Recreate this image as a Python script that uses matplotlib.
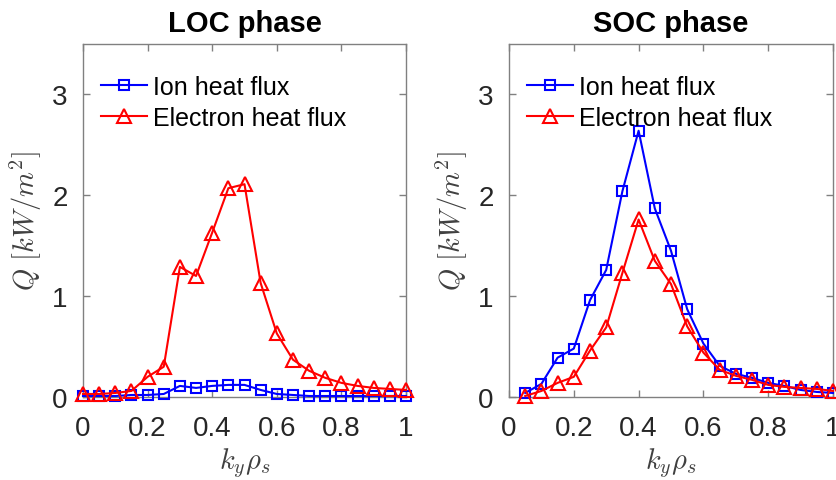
import matplotlib
matplotlib.use("Agg")
import matplotlib.pyplot as plt

plt.rcParams["font.family"] = ["Liberation Sans", "DejaVu Sans"]
plt.rcParams["mathtext.fontset"] = "cm"

# LOC phase data
ky_loc = [0, 0.05, 0.1, 0.15, 0.2, 0.25, 0.3, 0.35, 0.4, 0.45, 0.5,
          0.55, 0.6, 0.65, 0.7, 0.75, 0.8, 0.85, 0.9, 0.95, 1.0]
ion_loc = [0.01, 0.01, 0.01, 0.02, 0.02, 0.03, 0.11, 0.09, 0.11, 0.12, 0.12,
           0.07, 0.03, 0.02, 0.01, 0.01, 0.01, 0.01, 0.01, 0.01, 0.01]
ele_loc = [0.03, 0.03, 0.04, 0.06, 0.2, 0.3, 1.29, 1.2, 1.63, 2.07, 2.11,
           1.13, 0.63, 0.37, 0.26, 0.19, 0.14, 0.11, 0.09, 0.08, 0.07]

# SOC phase data
ky_soc = [0.05, 0.1, 0.15, 0.2, 0.25, 0.3, 0.35, 0.4, 0.45, 0.5,
          0.55, 0.6, 0.65, 0.7, 0.75, 0.8, 0.85, 0.9, 0.95, 1.0]
ion_soc = [0.04, 0.13, 0.39, 0.48, 0.96, 1.26, 2.04, 2.64, 1.87, 1.45,
           0.87, 0.53, 0.31, 0.23, 0.19, 0.14, 0.11, 0.07, 0.05, 0.04]
ele_soc = [0.01, 0.06, 0.14, 0.2, 0.46, 0.69, 1.23, 1.76, 1.35, 1.12,
           0.7, 0.44, 0.27, 0.21, 0.17, 0.12, 0.1, 0.09, 0.08, 0.06]

xticks = [0, 0.2, 0.4, 0.6, 0.8, 1]
xticklabels = ["0", "0.2", "0.4", "0.6", "0.8", "1"]
yticks = [0, 1, 2, 3]

W, H = 836, 481
fig = plt.figure(figsize=(W / 100, H / 100), dpi=100)
ax1 = fig.add_axes([83 / W, (H - 398) / H, 323 / W, 353 / H])
ax2 = fig.add_axes([509 / W, (H - 398) / H, 324 / W, 353 / H])

panels = [(ax1, "LOC phase", ky_loc, ion_loc, ele_loc),
          (ax2, "SOC phase", ky_soc, ion_soc, ele_soc)]

for ax, title, x, ion, ele in panels:
    ax.plot(x, ion, "-s", color="blue", lw=1.5, ms=7, mfc="none", mew=1.5,
            label="Ion heat flux", clip_on=False, zorder=3)
    ax.plot(x, ele, "-^", color="red", lw=1.5, ms=10, mfc="none", mew=1.5,
            label="Electron heat flux", clip_on=False, zorder=3)
    ax.set_xlim(0, 1)
    ax.set_ylim(0, 3.5)
    ax.set_xticks(xticks)
    ax.set_xticklabels(xticklabels)
    ax.set_yticks(yticks)
    ax.tick_params(direction="in", top=True, right=True, length=5,
                   width=1, color="#808080", labelsize=20, labelcolor="#262626")
    ax.tick_params(axis="x", pad=13)
    ax.tick_params(axis="y", pad=11)
    for s in ax.spines.values():
        s.set_color("#808080")
        s.set_linewidth(1)
    ax.set_title(title, fontsize=21, fontweight="bold", pad=9)
    ax.set_xlabel(r"$k_y\rho_s$", fontsize=20.5, color="#404040", labelpad=3)
    ax.set_ylabel(r"$Q\ [kW/m^2]$", fontsize=20.5, color="#404040", labelpad=6)
    ax.legend(loc="upper left", frameon=False, fontsize=18, handlelength=1.85,
              handletextpad=0.25, labelspacing=0.3, borderaxespad=0.0,
              borderpad=0.0, bbox_to_anchor=(0.055, 0.913))

fig.savefig("out.png", dpi=100)
